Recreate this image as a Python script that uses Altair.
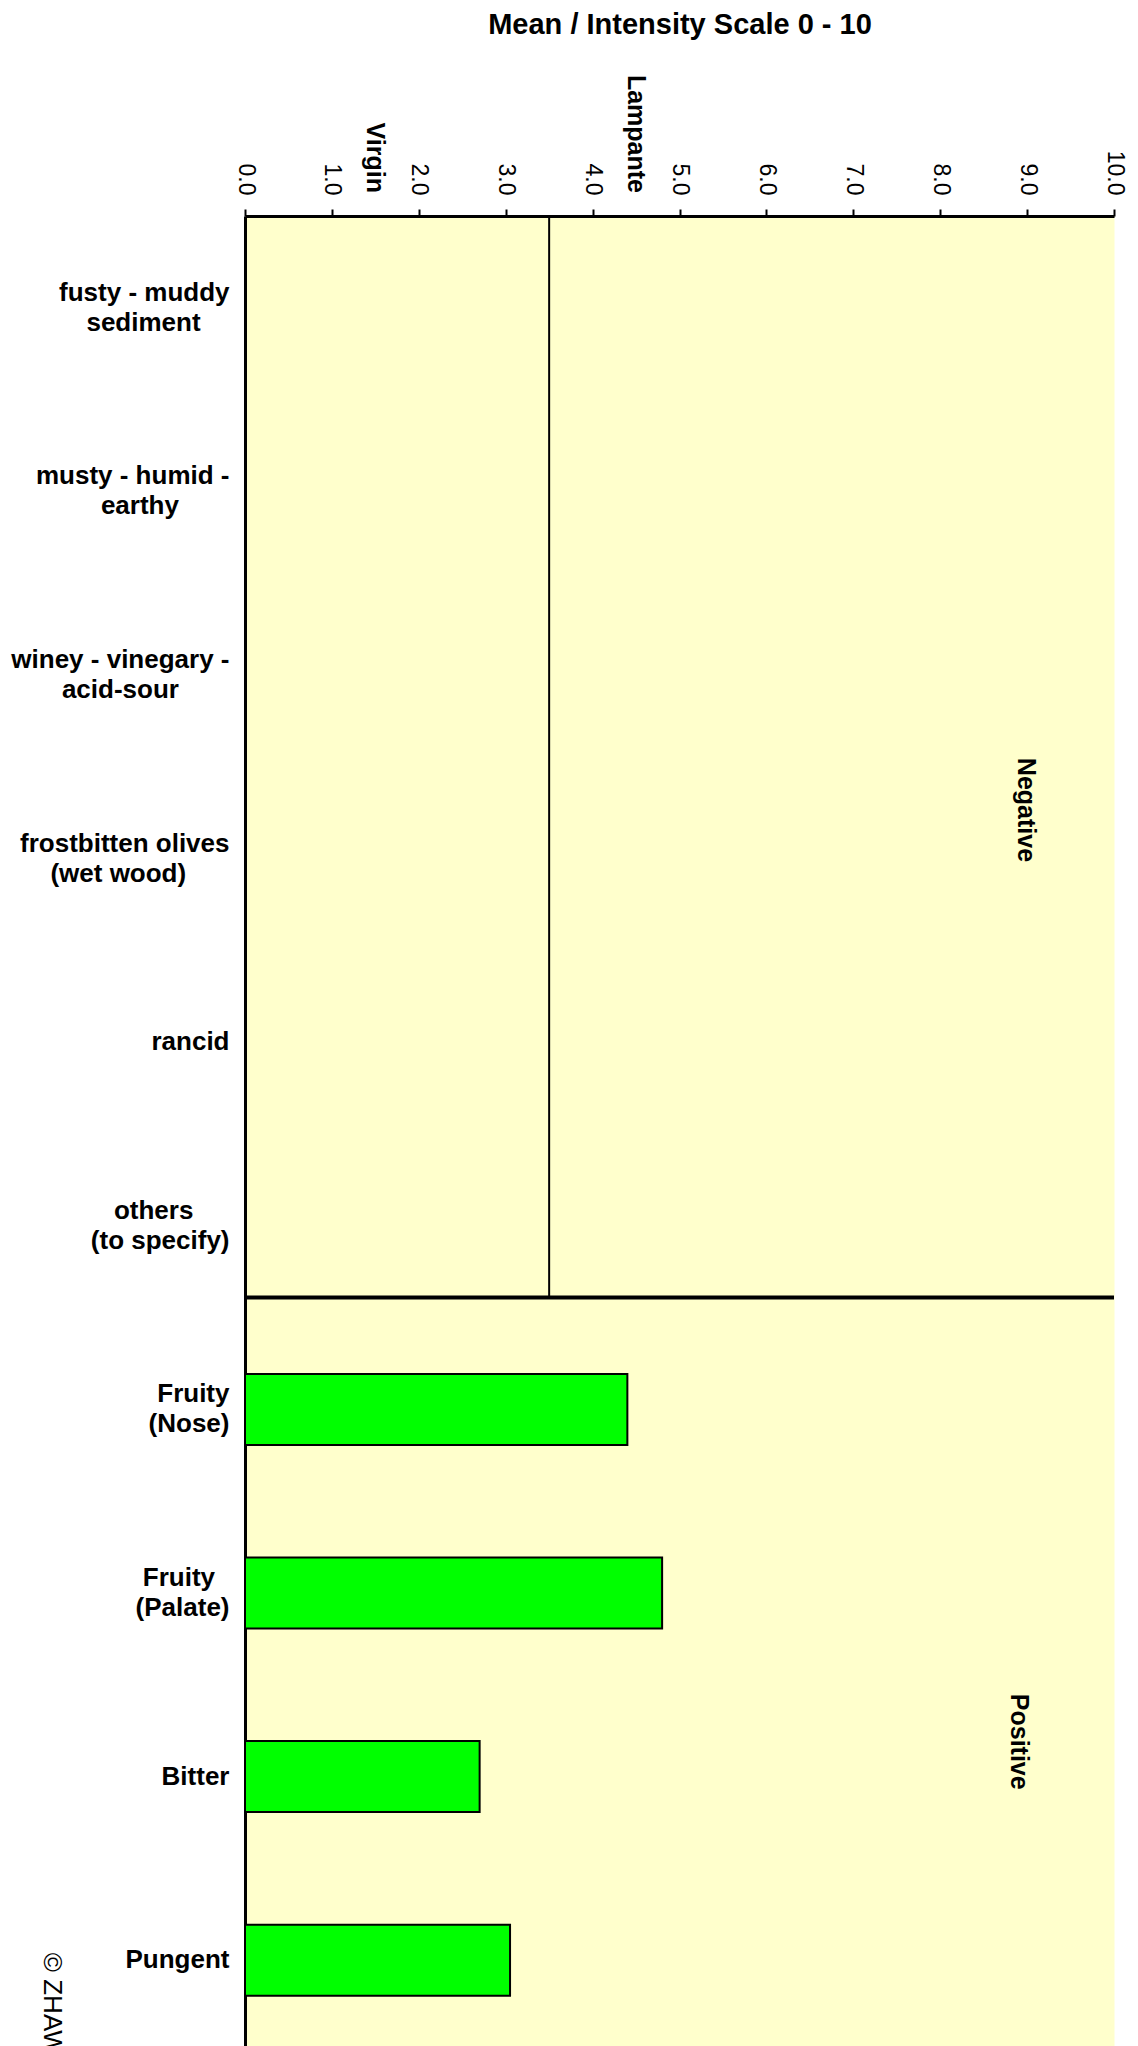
import altair as alt
import pandas as pd

FONT = "Liberation Sans"
NBSP = "\u00a0"
ZWSP = "\u200b"

# ---- data ----
negative_attrs = [
    "fusty - muddy\nsediment",
    "musty - humid -\nearthy",
    "winey - vinegary -\nacid-sour",
    "frostbitten olives\n(wet wood)",
    "rancid",
    "others\n(to specify)",
]
positive_attrs = ["Fruity\n(Nose)", "Fruity\n(Palate)", "Bitter", "Pungent"]
positive_values = [4.4, 4.8, 2.7, 3.05]

x_ticks = [0, 1, 2, 3, 4, 5, 6, 7, 8, 9, 10]
lampante_limit = 3.5
zone_labels = ["Virgin", "Lampante"]
zone_values = [1.5, 4.5]
title_text = "Mean / Intensity Scale 0 - 10"
copyright_text = "© ZHAW"

order = negative_attrs + positive_attrs
bars_df = pd.DataFrame({"attribute": positive_attrs, "value": positive_values})
zones_df = pd.DataFrame({"label": zone_labels, "pos": zone_values})

# label expression: split into lines and visually centre the shorter line
# under the longer one (right-aligned block, trailing no-break spaces,
# closed with a zero-width space so the renderer does not trim them)
sp = "split(datum.label, '\\n')"
l0, l1 = f"{sp}[0]", f"{sp}[1]"


def padded(a, b):
    return (f"(length({a}) >= length({b}) ? {a} : "
            f"pad({a}, length({a}) + round((length({b}) - length({a})) * 0.8), '{NBSP}', 'right') + '{ZWSP}')")


label_expr = f"length({sp}) < 2 ? datum.label : [{padded(l0, l1)}, {padded(l1, l0)}]"

x_scale = alt.Scale(domain=[0, 10], nice=False, zero=True)
y_scale = alt.Scale(domain=order, paddingInner=0, paddingOuter=0)

x_axis = alt.Axis(
    orient="top", values=x_ticks, format=".1f",
    labelAngle=90, labelAlign="right", labelBaseline="middle",
    labelFont=FONT, labelFontSize=23, labelColor="black", labelPadding=14,
    tickSize=7, tickWidth=2, tickColor="black",
    domainColor="black", domainWidth=3, grid=False,
    title=title_text, titleFont=FONT, titleFontSize=29, titleFontWeight="bold",
    titleColor="black", titleBaseline="alphabetic", titleY=-183,
)
y_axis = alt.Axis(
    orient="left", ticks=False, tickSize=0, grid=False,
    domainColor="black", domainWidth=3,
    labelFont=FONT, labelFontSize=26, labelFontWeight="bold", labelColor="black",
    labelAlign="right", labelBaseline="middle", labelPadding=16, labelLimit=400,
    labelLineHeight=30, labelExpr=label_expr,
    labelOffset={"condition": {"test": "indexof(datum.value, '\\n') >= 0", "value": -15}, "value": 0},
)

bars = alt.Chart(bars_df).mark_bar(
    color="#00FF00", stroke="black", strokeWidth=2, size=71
).encode(
    x=alt.X("value:Q", scale=x_scale, axis=x_axis),
    y=alt.Y("attribute:N", scale=y_scale, axis=y_axis, sort=order, title=None),
)

limit_rule = alt.Chart(pd.DataFrame({"v": [lampante_limit]})).mark_rule(
    color="black", strokeWidth=2
).encode(
    x=alt.X("v:Q", scale=x_scale, axis=x_axis),
    y=alt.YDatum(order[0], type="nominal", bandPosition=0),
    y2=alt.Y2Datum(order[5], bandPosition=0.89),
)

separator = alt.Chart(pd.DataFrame({"a": [0]})).mark_rule(
    color="black", strokeWidth=4
).encode(
    x=alt.XDatum(0, type="quantitative"),
    x2=alt.X2Datum(10),
    y=alt.YDatum(order[5], type="nominal", bandPosition=0.89),
)

zone_text = alt.Chart(zones_df).mark_text(
    angle=90, align="right", baseline="middle", font=FONT,
    fontSize=25, fontWeight="bold", color="black"
).encode(
    x=alt.X("pos:Q", scale=x_scale, axis=x_axis),
    y=alt.value(-23),
    text="label:N",
)

neg_text = alt.Chart(pd.DataFrame({"a": [0]})).mark_text(
    angle=90, align="center", baseline="middle", font=FONT,
    fontSize=25, fontWeight="bold", color="black", text="Negative"
).encode(
    x=alt.XDatum(8.99, type="quantitative"),
    y=alt.YDatum(order[3], type="nominal", bandPosition=0.235),
)

pos_text = alt.Chart(pd.DataFrame({"a": [0]})).mark_text(
    angle=90, align="center", baseline="middle", font=FONT,
    fontSize=25, fontWeight="bold", color="black", text="Positive"
).encode(
    x=alt.XDatum(8.91, type="quantitative"),
    y=alt.YDatum(order[8], type="nominal", bandPosition=0.31),
)

copy_text = alt.Chart(pd.DataFrame({"a": [0]})).mark_text(
    angle=90, align="left", baseline="middle", font=FONT,
    fontSize=26, color="black", text=copyright_text
).encode(
    x=alt.value(-193),
    y=alt.YDatum(order[9], type="nominal", bandPosition=0.46),
)

chart = alt.layer(
    bars, limit_rule, separator, zone_text, neg_text, pos_text, copy_text
).properties(
    width=869, height=1836,
    autosize=alt.AutoSizeParams(type="none"),
    padding={"left": 237, "top": 208, "right": 16, "bottom": 12},
).configure_view(fill="#FFFFCC", stroke="transparent")

chart.save("out.html", embed_options={"renderer": "svg", "actions": False})
